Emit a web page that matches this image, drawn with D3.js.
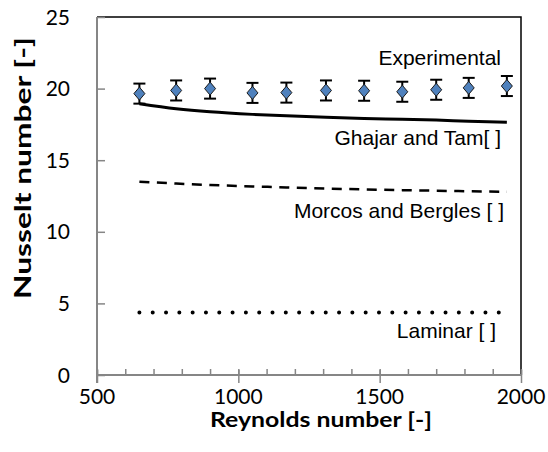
<!DOCTYPE html>
<html><head><meta charset="utf-8">
<script src="https://cdn.jsdelivr.net/npm/d3@7"></script>
<style>body{margin:0;background:#fff}svg{display:block}</style>
</head><body>
<script>
const reynolds = [650, 780, 900, 1050, 1170, 1310, 1445, 1580, 1700, 1815, 1950];
const nuExperimental = [19.65, 19.87, 20.0, 19.7, 19.72, 19.87, 19.85, 19.78, 19.92, 20.05, 20.18];
const nuError = [0.7, 0.7, 0.7, 0.7, 0.7, 0.7, 0.7, 0.7, 0.7, 0.7, 0.7];
const nuGhajarTam = [18.95, 18.6, 18.38, 18.2, 18.1, 18.0, 17.92, 17.86, 17.8, 17.72, 17.65];
const nuMorcosBergles = [13.5, 13.37, 13.27, 13.17, 13.1, 13.02, 12.96, 12.91, 12.87, 12.83, 12.8];
const nuLaminar = [4.36, 4.36, 4.36, 4.36, 4.36, 4.36, 4.36, 4.36, 4.36, 4.36, 4.36];
const xTicks = [500, 1000, 1500, 2000];
const xMinorTicks = d3.range(500, 2001, 100);
const yTicks = [0, 5, 10, 15, 20, 25];
const labels = {exp: "Experimental", gt: "Ghajar and Tam[ ]", mb: "Morcos and Bergles [ ]", lam: "Laminar [ ]"};
const xTitle = "Reynolds number [-]", yTitle = "Nusselt number [-]";

const W = 548, H = 452;
const L = 97, R = 521, T = 17, B = 375;
const svg = d3.select("body").append("svg").attr("width", W).attr("height", H);
const x = d3.scaleLinear().domain([500, 2000]).range([L, R]);
const y = d3.scaleLinear().domain([0, 25]).range([B, T]);
const axisGrey = "#868686";
const tickFont = "Lato, 'Open Sans', sans-serif";

// plot border (top/right)
svg.append("path").attr("d", `M${L},${T}H${R}V${B}`).attr("fill", "none").attr("stroke", "#000").attr("stroke-width", 1.5);

// y axis
const yAxis = svg.append("g").attr("transform", `translate(${L},0)`)
  .call(d3.axisRight(y).tickValues(yTicks).tickSize(8).tickFormat(""));
yAxis.select(".domain").attr("stroke", axisGrey).attr("stroke-width", 2).attr("d", `M0,${T}V${B+8}`);
yAxis.selectAll(".tick line").attr("stroke", axisGrey).attr("stroke-width", 1.5);
svg.append("g").selectAll("text").data(yTicks).join("text")
  .attr("x", 70).attr("y", d => y(d)).attr("dy", "0.36em").attr("text-anchor", "end")
  .attr("font-family", tickFont).attr("font-size", 21).attr("fill", "#000").text(d => d);

// x axis
const xMinor = svg.append("g").attr("transform", `translate(0,${B})`)
  .call(d3.axisTop(x).tickValues(xMinorTicks).tickSize(6).tickFormat(""));
xMinor.select(".domain").remove();
xMinor.selectAll(".tick line").attr("stroke", axisGrey).attr("stroke-width", 1.5);
const xMajor = svg.append("g").attr("transform", `translate(0,${B})`)
  .call(d3.axisBottom(x).tickValues(xTicks).tickSize(8).tickFormat(""));
xMajor.select(".domain").attr("stroke", axisGrey).attr("stroke-width", 2).attr("d", `M${L},0H${R}`);
xMajor.selectAll(".tick line").attr("stroke", axisGrey).attr("stroke-width", 1.5).attr("y1", -5);
svg.append("g").selectAll("text").data(xTicks).join("text")
  .attr("x", d => x(d)).attr("y", 404).attr("text-anchor", "middle")
  .attr("font-family", tickFont).attr("font-size", 21).attr("fill", "#000").text(d => d);

// titles
svg.append("text").attr("x", 321).attr("y", 427).attr("text-anchor", "middle")
  .attr("font-family", tickFont).attr("font-weight", "bold").attr("font-size", 21)
  .attr("textLength", 222).attr("lengthAdjust", "spacingAndGlyphs").text(xTitle);
svg.append("text").attr("transform", "translate(31,168) rotate(-90)").attr("text-anchor", "middle")
  .attr("font-family", tickFont).attr("font-weight", "bold").attr("font-size", 22)
  .attr("textLength", 262).attr("lengthAdjust", "spacingAndGlyphs").text(yTitle);

// lines
const line = vals => d3.line().x((d, i) => x(reynolds[i])).y(d => y(d)).curve(d3.curveMonotoneX)(vals);
svg.append("path").attr("d", line(nuGhajarTam)).attr("fill", "none").attr("stroke", "#000").attr("stroke-width", 3);
svg.append("path").attr("d", line(nuMorcosBergles)).attr("fill", "none").attr("stroke", "#000").attr("stroke-width", 2.5).attr("stroke-dasharray", "10 7.5");
svg.append("path").attr("d", line(nuLaminar)).attr("fill", "none").attr("stroke", "#000").attr("stroke-width", 4)
  .attr("stroke-linecap", "round").attr("stroke-dasharray", "0.01 13.3");

// error bars
const eb = svg.append("g").attr("stroke", "#000").attr("stroke-width", 2);
reynolds.forEach((r, i) => {
  const cx = x(r), y1 = y(nuExperimental[i] + nuError[i]), y2 = y(nuExperimental[i] - nuError[i]);
  eb.append("line").attr("x1", cx).attr("x2", cx).attr("y1", y1).attr("y2", y2);
  eb.append("line").attr("x1", cx - 6).attr("x2", cx + 6).attr("y1", y1).attr("y2", y1);
  eb.append("line").attr("x1", cx - 6).attr("x2", cx + 6).attr("y1", y2).attr("y2", y2);
});
// diamonds
svg.append("g").selectAll("path").data(reynolds).join("path")
  .attr("transform", (d, i) => `translate(${x(d)},${y(nuExperimental[i])})`)
  .attr("d", "M0,-6.5L5.5,0L0,6.5L-5.5,0Z").attr("fill", "#4F81BD").attr("stroke", "#1a1a1a").attr("stroke-width", 1);

// annotations
const annFont = "'Liberation Sans', Arial, sans-serif";
[[labels.exp, 501, 65], [labels.gt, 501, 145], [labels.mb, 504, 218], [labels.lam, 496, 338]].forEach(([t, ax, ay]) => {
  svg.append("text").attr("x", ax).attr("y", ay).attr("text-anchor", "end")
    .attr("font-family", annFont).attr("font-size", 21).attr("fill", "#000").text(t);
});
</script>
</body></html>
